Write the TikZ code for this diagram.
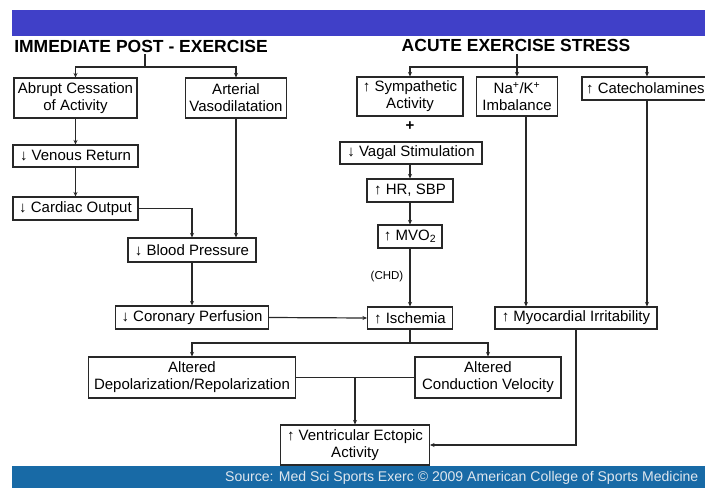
\documentclass[tikz,border=0pt]{standalone}
\usepackage{fontspec}
\setmainfont{Liberation Sans}
\usetikzlibrary{arrows.meta}
\definecolor{topbar}{RGB}{64,64,200}
\definecolor{footbar}{RGB}{24,106,166}
\definecolor{ink}{RGB}{40,40,40}
\definecolor{foottext}{RGB}{222,230,238}
\begin{document}
\begin{tikzpicture}[x=1pt,y=-1pt,
  box/.style={draw=ink, line width=1.1pt, fill=white, inner sep=0pt, align=center,
    font=\fontsize{15}{16.8}\selectfont, text=black},
  link/.style={draw=ink, line width=1.2pt},
  arr/.style={link, -{Stealth[length=4.5pt,width=4pt]}},
  heading/.style={font=\fontsize{17.5}{20}\selectfont\bfseries, inner sep=0pt}]
\useasboundingbox (0,0) rectangle (705,488);
\fill[white] (0,0) rectangle (705,488);
% title and footer bands
\fill[topbar] (12,10) rectangle (705,36);
\fill[footbar] (12,466) rectangle (705,488);
\node[anchor=west, inner sep=0pt, text=foottext, font=\fontsize{14.05}{16}\selectfont]
  (source) at (225,478) {Source: Med Sci Sports Exerc © 2009 American College of Sports Medicine};

% headings
\node[heading] (imm) at (141,46) {IMMEDIATE POST - EXERCISE};
\node[heading] (acute) at (516,45) {ACUTE EXERCISE STRESS};

% left branch
\node[box, minimum width=123pt, minimum height=40pt] (abrupt) at (75.5,98) {Abrupt Cessation\\of Activity};
\node[box, minimum width=101pt, minimum height=40pt] (arterial) at (236,98) {Arterial\\Vasodilatation};
\node[box, minimum width=125pt, minimum height=22pt] (venous) at (75.5,156) {↓ Venous Return};
\node[box, minimum width=125pt, minimum height=23pt] (cardiac) at (75.5,208.5) {↓ Cardiac Output};
\node[box, minimum width=128pt, minimum height=24pt] (bp) at (192,250) {↓ Blood Pressure};
\node[box, minimum width=153pt, minimum height=23pt] (coronary) at (192,317.5) {↓ Coronary Perfusion};

% right branch
\node[box, minimum width=106pt, minimum height=39pt] (symp) at (410,96.5) {↑ Sympathetic\\Activity};
\node[box, minimum width=81pt, minimum height=39pt] (nak) at (517,96.5) {Na\textsuperscript{+}/K\textsuperscript{+}\\Imbalance};
\node[box, minimum width=130pt, minimum height=23pt] (cat) at (647,88.5) {};
\node[anchor=west, inner sep=0pt, font=\fontsize{14.9}{17}\selectfont] (cattext) at (586,88.5) {↑ Catecholamines};
\node[font=\fontsize{15}{17}\selectfont\bfseries, inner sep=0pt] (plus) at (410,126) {+};
\node[box, minimum width=142pt, minimum height=22pt] (vagal) at (411,153) {↓ Vagal Stimulation};
\node[box, minimum width=86pt, minimum height=23pt] (hr) at (410,190.5) {↑ HR, SBP};
\node[box, minimum width=64pt, minimum height=23pt] (mvo) at (410,236.5) {↑ MVO\textsubscript{2}};
\node[font=\fontsize{11.5}{13}\selectfont, inner sep=0pt] (chd) at (387,277) {(CHD)};
\node[box, minimum width=85pt, minimum height=22pt] (isch) at (410,318) {↑ Ischemia};
\node[box, minimum width=162pt, minimum height=22pt] (myo) at (576,318) {↑ Myocardial Irritability};

% lower part
\node[box, minimum width=207pt, minimum height=41pt] (depol) at (192,377.5) {Altered\\Depolarization/Repolarization};
\node[box, minimum width=146pt, minimum height=41pt] (cond) at (488,377.5) {Altered\\Conduction Velocity};
\node[box, minimum width=149pt, minimum height=40pt] (vent) at (355,445) {↑ Ventricular Ectopic\\Activity};

% split points
\coordinate (ij2) at (145,67);
\coordinate (aj) at (517,67);
\coordinate (xj) at (410,343);

% immediate post-exercise connectors
\draw[link] (ij2 |- imm.south) ++(0,2) -- (ij2);
\draw[arr] (ij2) -| (abrupt.north);
\draw[arr] (ij2) -| (arterial.north);
\draw[arr] (abrupt.south) -- (venous.north);
\draw[arr] (venous.south) -- (cardiac.north);
\draw[arr] (cardiac.east) -| (bp.north);
\draw[arr] (arterial.south) -- (arterial.south |- bp.north);
\draw[arr] (bp.south) -- (coronary.north);
\draw[arr] (coronary.east) -- (isch.west);

% acute exercise stress connectors
\draw[link] (aj |- acute.south) ++(0,3) -- (aj);
\draw[arr] (aj) -| (symp.north);
\draw[arr] (aj) -- (nak.north);
\draw[arr] (aj) -| (cat.north);
\draw[arr] (vagal.south -| hr.north) -- (hr.north);
\draw[arr] (hr.south) -- (mvo.north);
\draw[arr] (mvo.south) -- (isch.north);
\draw[arr] ([xshift=9pt]nak.south) -- ([xshift=9pt]nak.south |- myo.north);
\draw[arr] (cat.south) -- (cat.south |- myo.north);

% converging connectors
\draw[link] (isch.south) -- (xj);
\draw[arr] (xj) -| (depol.north);
\draw[arr] (xj) -| (cond.north);
\draw[link] (depol.east) -- (cond.west);
\draw[arr] (vent.north |- depol.east) -- (vent.north);
\draw[arr] (myo.south) |- (vent.east);
\end{tikzpicture}
\end{document}
